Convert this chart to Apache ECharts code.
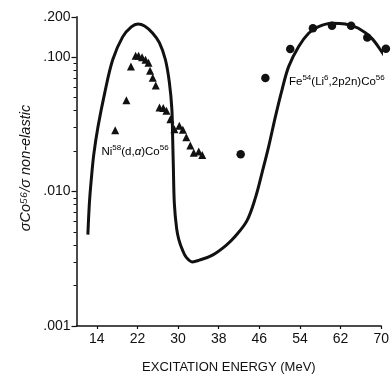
<!DOCTYPE html>
<html><head><meta charset="utf-8">
<script src="https://cdn.jsdelivr.net/npm/echarts@6/dist/echarts.min.js"></script>
<style>html,body{margin:0;padding:0;background:#fff}#c{width:392px;height:379px}</style>
</head><body><div id="c"></div>
<script>
// X axis ticks (MeV)
const xTicks = [14, 22, 30, 38, 46, 54, 62, 70];
// Y axis major ticks and their labels
const yMajor = [0.001, 0.01, 0.1, 0.2];
const yMajorLabels = ['.001', '.010', '.100', '.200'];
const yMinor = [0.002,0.003,0.004,0.005,0.006,0.007,0.008,0.009,
                0.02,0.03,0.04,0.05,0.06,0.07,0.08,0.09];

// Theoretical curve (one continuous line)
const curveE = [12.24,12.53,12.92,13.41,14.25,15.57,17.13,19.09,20.79,22.09,23.40,24.97,26.34,27.51,28.29,28.78,28.94,29.08,29.27,29.72,30.15,30.90,31.62,32.80,34.17,36.77,39.40,41.22,43.57,45.27,46.56,47.87,49.19,50.48,51.79,53.75,55.71,57.67,60.27,62.89,65.50,68.10,70.06,71.76];
const curveV = [0.00479,0.00811,0.01243,0.0190,0.0306,0.0546,0.0958,0.1418,0.1681,0.1769,0.1710,0.1517,0.1280,0.0958,0.0648,0.0409,0.0245,0.01473,0.00811,0.00530,0.00440,0.00365,0.00324,0.00300,0.00309,0.00337,0.00397,0.00463,0.00608,0.0091,0.01392,0.0219,0.0365,0.0575,0.0855,0.1202,0.1510,0.1689,0.179,0.1769,0.1644,0.1387,0.1104,0.0880];

// Ni58(d,alpha)Co56 data (triangles)
const niE = [17.62,19.82,20.72,21.64,22.22,22.91,23.59,24.18,24.48,25.02,25.61,26.34,27.08,27.71,28.49,29.27,30.25,30.94,31.62,32.41,33.09,34.07,34.76];
const niV = [0.0286,0.0479,0.0855,0.1026,0.1026,0.100,0.0958,0.0911,0.0795,0.0705,0.0615,0.0423,0.0420,0.0399,0.0345,0.0291,0.0309,0.0289,0.0254,0.0220,0.0195,0.0199,0.0187];

// Fe54(Li6,2p2n)Co56 data (circles)
const feE = [42.33,47.19,52.09,56.55,60.31,64.07,67.26,70.92];
const feV = [0.0190,0.0702,0.1152,0.1644,0.1718,0.1718,0.1401,0.1156];

const L = Math.log10;
const pts = (xs, ys) => xs.map((x, i) => [x, L(ys[i])]);
const ink = '#111';
const font = '"Liberation Sans", Arial, sans-serif';
const rich = {
  n: { fontSize: 11.5, fontFamily: font, color: ink, lineHeight: 14, verticalAlign: 'bottom' },
  i: { fontSize: 11.5, fontFamily: font, fontStyle: 'italic', color: ink, lineHeight: 14, verticalAlign: 'bottom' },
  s: { fontSize: 8, fontFamily: font, color: ink, lineHeight: 14, verticalAlign: 'top' }
};

const chart = echarts.init(document.getElementById('c'));
chart.setOption({
  backgroundColor: '#fff',
  animation: false,
  grid: { left: 76.5, right: 9, top: 16.8, bottom: 51, containLabel: false },
  xAxis: {
    type: 'value', min: 10, max: 70,
    axisLine: { lineStyle: { color: ink, width: 1.5 } },
    axisTick: { customValues: xTicks, length: 3, lineStyle: { color: ink, width: 1.2 } },
    axisLabel: { customValues: xTicks, color: ink, fontSize: 14, fontFamily: font, margin: 6 },
    splitLine: { show: false },
    name: 'EXCITATION ENERGY (MeV)', nameLocation: 'middle', nameGap: 35,
    nameTextStyle: { color: ink, fontSize: 13, fontFamily: font }
  },
  yAxis: [{
    type: 'value', min: L(0.001), max: L(0.2),
    axisLine: { show: true, lineStyle: { color: ink, width: 1.5 } },
    axisTick: { customValues: yMajor.map(L), length: 5, lineStyle: { color: ink, width: 1.2 } },
    axisLabel: { customValues: yMajor.map(L), color: ink, fontSize: 14, fontFamily: font, margin: 6,
      formatter: v => { let best = 0; yMajor.forEach((m, i) => { if (Math.abs(L(m) - v) < Math.abs(L(yMajor[best]) - v)) best = i; }); return yMajorLabels[best]; } },
    splitLine: { show: false }
  }, {
    type: 'value', min: L(0.001), max: L(0.2), position: 'left',
    axisLine: { show: false },
    axisTick: { show: true, customValues: yMinor.map(L), length: 3, lineStyle: { color: ink, width: 1 } },
    axisLabel: { show: false },
    splitLine: { show: false }
  }],
  series: [{
    type: 'line', data: pts(curveE, curveV), smooth: 0.35, symbol: 'none', clip: false,
    lineStyle: { color: ink, width: 3 }
  }, {
    type: 'scatter', data: pts(niE, niV), symbol: 'triangle', symbolSize: [8, 8], clip: false,
    itemStyle: { color: ink, opacity: 1 }
  }, {
    type: 'scatter', data: pts(feE, feV), symbol: 'circle', symbolSize: 8.5, clip: false,
    itemStyle: { color: ink, opacity: 1 }
  }],
  graphic: [{
    type: 'text', x: 26, y: 168, rotation: Math.PI / 2,
    style: { text: 'σCo⁵⁶/σ non-elastic', font: 'italic 14.5px ' + font, fill: ink, textAlign: 'center', textVerticalAlign: 'middle' }
  }, {
    type: 'text', x: 101.5, y: 151,
    style: { text: '{n|Ni}{s|58}{n|(d,}{i|α}{n|)Co}{s|56}', rich: rich, textAlign: 'left', textVerticalAlign: 'middle' }
  }, {
    type: 'text', x: 289, y: 81,
    style: { text: '{n|Fe}{s|54}{n|(Li}{s|6}{n|,2p2n)Co}{s|56}', rich: rich, textAlign: 'left', textVerticalAlign: 'middle' }
  }]
});
</script>
</body></html>
